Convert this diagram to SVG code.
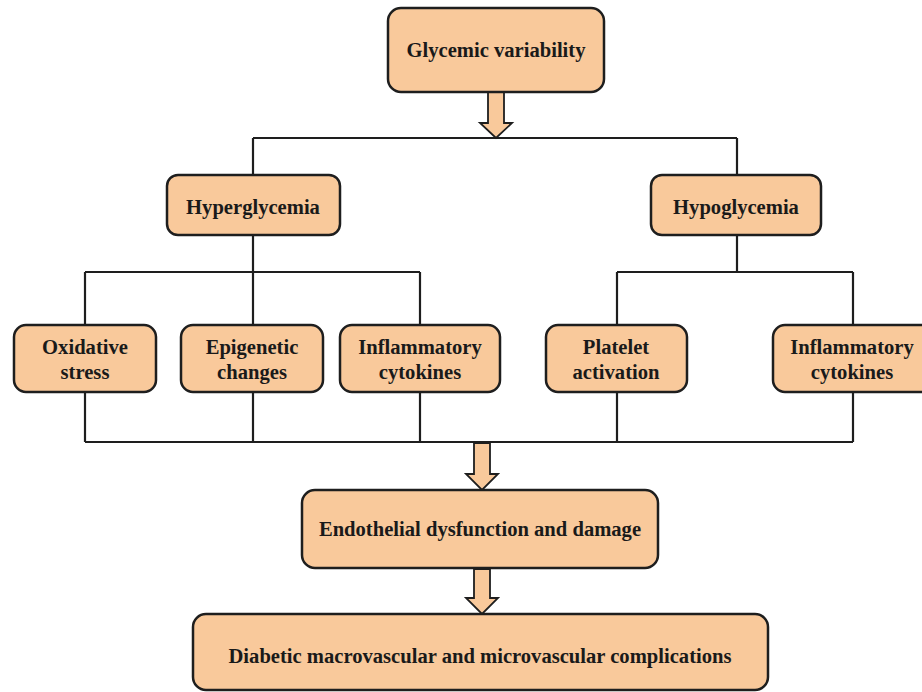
<svg xmlns="http://www.w3.org/2000/svg" width="922" height="692" viewBox="0 0 922 692">
<style>
.box{fill:#F9C99B;stroke:#1e1e1e;stroke-width:2.5}
.t{font-family:"Liberation Serif","Times New Roman",serif;font-weight:bold;font-size:20.6px;fill:#1a1a1a;text-anchor:middle}
.ln{fill:none;stroke:#1e1e1e;stroke-width:2.2}
.arr{fill:#F9C99B;stroke:#1e1e1e;stroke-width:1.8;stroke-linejoin:miter}
</style>
<rect width="922" height="692" fill="#fff"/>
<g id="connectors">
<path class="ln" d="M253 138 H737 M253 138 V175 M737 138 V175"/>
<path class="ln" d="M253 235 V272 M85 272 H420 M85 272 V325 M253 272 V325 M420 272 V325"/>
<path class="ln" d="M737 235 V272 M617 272 H853 M617 272 V325 M853 272 V325"/>
<path class="ln" d="M85 392 V442 M253 392 V442 M420 392 V442 M617 392 V442 M853 392 V442 M85 442 H853"/>
<path class="arr" d="M488 92 H504 V123 H512 L496 138 L480 123 H488 Z"/>
<path class="arr" d="M474 443 H490 V474 H498 L482 490 L466 474 H474 Z"/>
<path class="arr" d="M474 569 H490 V598 H498 L482 614 L466 598 H474 Z"/>
</g>
<g id="glycemic"><rect class="box" x="388" y="8" width="216" height="84" rx="13"/><text class="t" x="496" y="57">Glycemic variability</text></g>
<g id="hyper"><rect class="box" x="167" y="175" width="173" height="60" rx="11"/><text class="t" x="253" y="214">Hyperglycemia</text></g>
<g id="hypo"><rect class="box" x="651" y="175" width="170" height="60" rx="11"/><text class="t" x="736" y="214">Hypoglycemia</text></g>
<g id="oxidative"><rect class="box" x="14" y="325" width="142" height="67" rx="12"/><text class="t" x="85" y="354">Oxidative</text><text class="t" x="85" y="379">stress</text></g>
<g id="epigenetic"><rect class="box" x="181" y="325" width="142" height="67" rx="12"/><text class="t" x="252" y="354">Epigenetic</text><text class="t" x="252" y="379">changes</text></g>
<g id="inflam1"><rect class="box" x="340" y="325" width="160" height="67" rx="12"/><text class="t" x="420" y="354">Inflammatory</text><text class="t" x="420" y="379">cytokines</text></g>
<g id="platelet"><rect class="box" x="546" y="325" width="141" height="67" rx="12"/><text class="t" x="616" y="354">Platelet</text><text class="t" x="616" y="379">activation</text></g>
<g id="inflam2"><rect class="box" x="773" y="325" width="160" height="67" rx="12"/><text class="t" x="852" y="354">Inflammatory</text><text class="t" x="852" y="379">cytokines</text></g>
<g id="endothelial"><rect class="box" x="302" y="490" width="356" height="78" rx="13"/><text class="t" x="480" y="536">Endothelial dysfunction and damage</text></g>
<g id="complications"><rect class="box" x="193" y="614" width="575" height="76" rx="13"/><text class="t" x="480" y="663">Diabetic macrovascular and microvascular complications</text></g>
</svg>
